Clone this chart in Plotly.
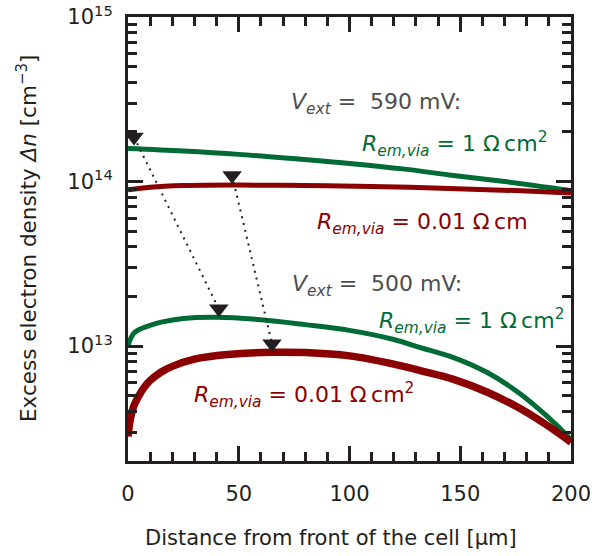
import plotly.graph_objects as go

# ---- data ----
x_g590 = [0, 25, 50, 78, 100, 125, 145, 170, 200]
y_g590 = [1.585e14, 1.531e14, 1.462e14, 1.365e14, 1.288e14, 1.189e14, 1.096e14, 1.0e14, 8.81e13]

x_r590 = [0, 10, 25, 50, 80, 110, 145, 175, 200]
y_r590 = [8.91e13, 9.23e13, 9.44e13, 9.51e13, 9.46e13, 9.33e13, 9.08e13, 8.81e13, 8.51e13]

x_g500 = [0, 1, 2.5, 5, 10, 15, 25, 40, 60, 80, 100, 120, 132, 147, 162, 177, 189, 198, 200]
y_g500 = [1.00e13, 1.096e13, 1.189e13, 1.259e13, 1.334e13, 1.396e13, 1.472e13, 1.496e13, 1.445e13,
          1.349e13, 1.245e13, 1.096e13, 9.77e12, 8.51e12, 6.92e12, 5.13e12, 3.76e12, 2.88e12, 2.69e12]

x_r500 = [0, 1, 2.5, 5, 7.5, 10, 15, 20, 30, 45, 65, 80, 100, 120, 132, 147, 162, 177, 189, 200]
y_r500 = [2.82e12, 3.55e12, 4.27e12, 5.01e12, 5.65e12, 6.17e12, 6.95e12, 7.52e12, 8.32e12, 8.87e12,
          9.16e12, 9.12e12, 8.71e12, 7.76e12, 7.08e12, 6.27e12, 5.25e12, 4.17e12, 3.31e12, 2.60e12]

arrow1_x = [2.7, 41]
arrow1_y = [1.862e14, 1.683e13]
arrow2_x = [47, 65]
arrow2_y = [1.089e14, 1.033e13]

x_ticks = [0, 50, 100, 150, 200]
y_ticks = [1e13, 1e14, 1e15]
y_ticktext = ["10<sup>13</sup>", "10<sup>14</sup>", "10<sup>15</sup>"]

GREEN = "#006B35"
RED = "#8B0000"
GRAY = "#4D4D4D"
INK = "#231F20"
FONT = "DejaVu Sans, Arial, sans-serif"

fig = go.Figure()

fig.add_trace(go.Scatter(x=x_g590, y=y_g590, mode="lines", line=dict(color=GREEN, width=5, shape="spline")))
fig.add_trace(go.Scatter(x=x_r590, y=y_r590, mode="lines", line=dict(color=RED, width=5, shape="spline")))
fig.add_trace(go.Scatter(x=x_g500, y=y_g500, mode="lines", line=dict(color=GREEN, width=5, shape="spline")))
fig.add_trace(go.Scatter(x=x_r500, y=y_r500, mode="lines", line=dict(color=RED, width=7.5, shape="spline")))

for ax, ay in [(arrow1_x, arrow1_y), (arrow2_x, arrow2_y)]:
    fig.add_trace(go.Scatter(x=ax, y=ay, mode="lines", line=dict(color=INK, width=2, dash="2px,5px")))
    fig.add_trace(go.Scatter(x=ax, y=ay, mode="markers",
                             marker=dict(symbol="triangle-down", size=17, color=INK)))

axis_common = dict(
    showline=True, linewidth=3, linecolor=INK, mirror="ticks",
    ticks="inside", ticklen=15, tickwidth=2.5, tickcolor=INK,
    showgrid=False, zeroline=False, automargin=False,
    tickfont=dict(family=FONT, size=21, color=INK),
)

fig.update_xaxes(range=[0, 200], tickvals=x_ticks, ticklabelstandoff=12,
                 minor=dict(dtick=10, ticks="inside", ticklen=9, tickwidth=2.5, tickcolor=INK, showgrid=False),
                 **axis_common)
fig.update_yaxes(type="log", range=[12.301, 15], tickvals=y_ticks, ticktext=y_ticktext,
                 ticklabelstandoff=8,
                 minor=dict(dtick="D1", ticks="inside", ticklen=9, tickwidth=2.5, tickcolor=INK, showgrid=False),
                 **axis_common)

ann = []
def add_text(text, xp, yp, color, size=22):
    ann.append(dict(text=text, x=xp, y=yp, xref="paper", yref="paper", xanchor="center", yanchor="middle",
                    showarrow=False, font=dict(family=FONT, size=size, color=color)))

R = "<i>R</i><sub><i>em,via</i></sub>"
V = "<i>V</i><sub><i>ext</i></sub>"
add_text(V + " =  590 mV:", 0.560, 0.805, GRAY)
add_text(R + " = 1 \u03a9\u2009cm<sup>2</sup>", 0.738, 0.715, GREEN)
add_text(R + " = 0.01 \u03a9\u2009cm", 0.665, 0.535, RED)
add_text(V + " =  500 mV:", 0.562, 0.395, GRAY)
add_text(R + " = 1 \u03a9\u2009cm<sup>2</sup>", 0.776, 0.315, GREEN)
add_text(R + " = 0.01 \u03a9\u2009cm<sup>2</sup>", 0.398, 0.148, RED)

# axis titles
ann.append(dict(text="Distance from front of the cell [\u00b5m]", x=(331 - 128) / 443, y=(460.5 - 537) / 443,
                xref="paper", yref="paper", xanchor="center", yanchor="middle", showarrow=False,
                font=dict(family=FONT, size=21, color=INK)))
ann.append(dict(text="Excess electron density <i>\u0394n</i> [cm<sup>\u22123</sup>]", x=(27 - 128) / 443, y=0.5,
                xref="paper", yref="paper", xanchor="center", yanchor="middle", showarrow=False, textangle=-90,
                font=dict(family=FONT, size=21.5, color=INK)))

fig.update_layout(
    width=592, height=556,
    margin=dict(l=128, r=21, t=17, b=95, autoexpand=False),
    paper_bgcolor="white", plot_bgcolor="white",
    showlegend=False,
    annotations=ann,
)

fig.write_html("out.html", config={"displayModeBar": False},
               post_script="document.body.style.margin='0';document.body.style.padding='0';"
                           "document.documentElement.style.overflow='hidden';")
